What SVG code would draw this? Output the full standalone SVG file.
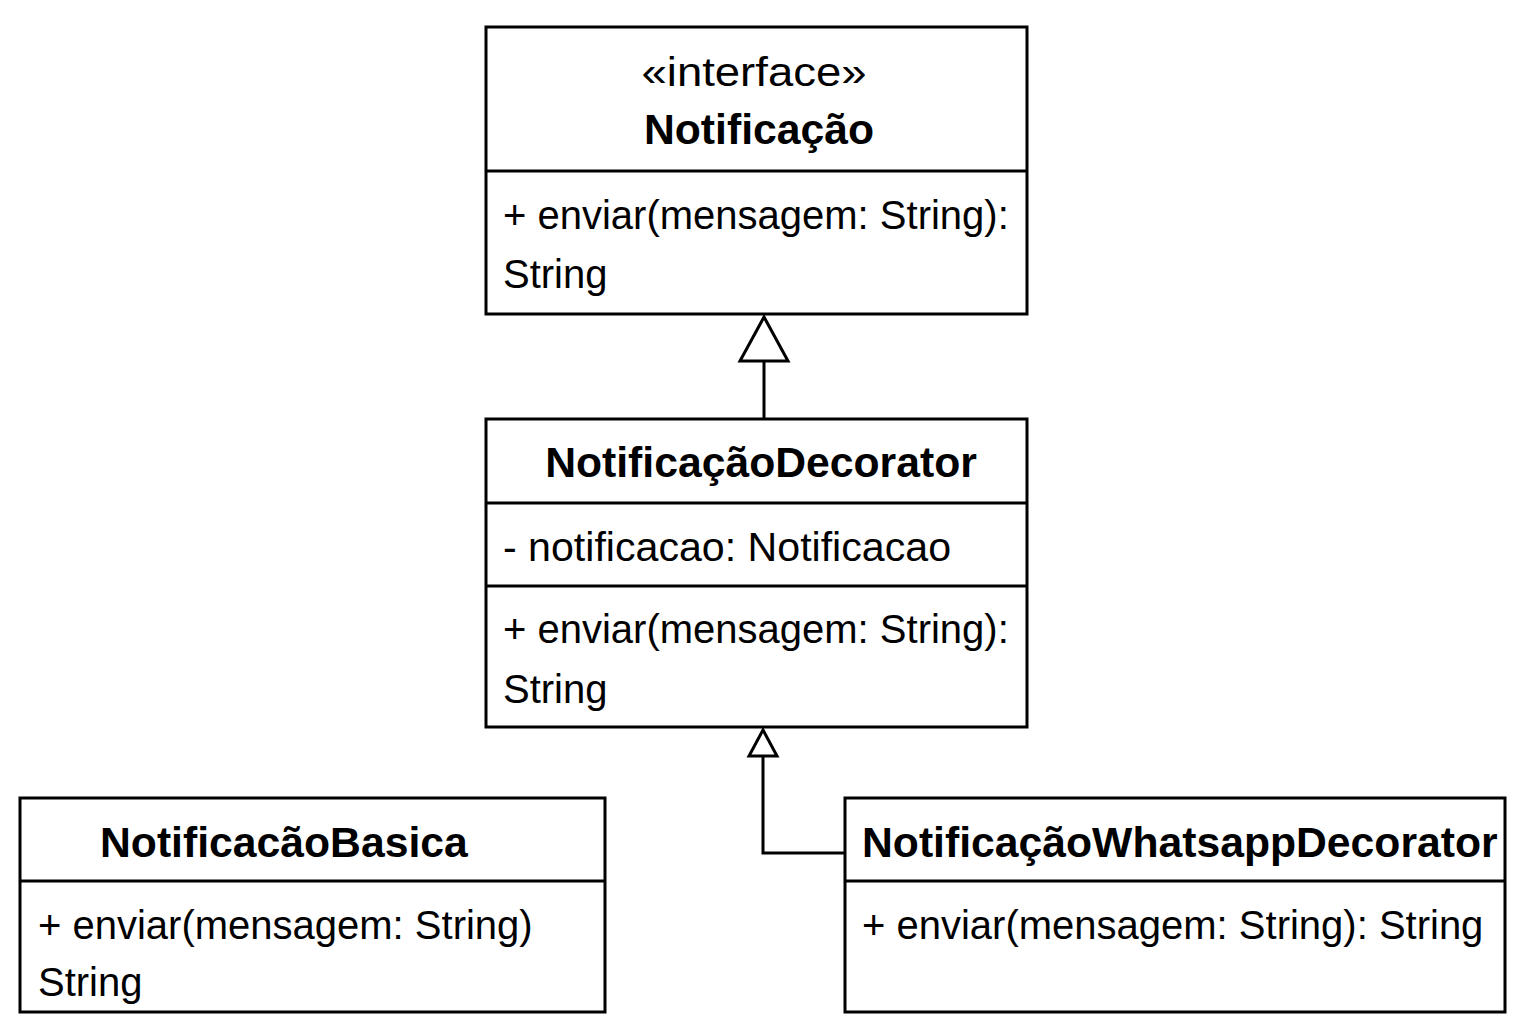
<svg xmlns="http://www.w3.org/2000/svg" width="1536" height="1024" viewBox="0 0 1536 1024">
<style>
.box{fill:#fff;stroke:#000;stroke-width:3}
.div{stroke:#000;stroke-width:3}
.t{font-family:"Liberation Sans",Arial,sans-serif;font-size:40px;fill:#000}
.b{font-family:"Liberation Sans",Arial,sans-serif;font-size:42.7px;font-weight:bold;fill:#000}
.c{stroke:#000;stroke-width:3;fill:none}
.h{stroke:#000;stroke-width:3;fill:#fff}
</style>
<rect width="1536" height="1024" fill="#fff"/>
<g id="connectors">
<line class="c" x1="764" y1="361" x2="764" y2="419"/>
<polygon class="h" points="764,317 740,361 788,361"/>
<polyline class="c" points="845,853 763,853 763,756"/>
<polygon class="h" points="763,730 749,756 777,756"/>
</g>
<g id="Notificacao">
<rect class="box" x="486" y="27" width="541" height="287"/>
<line class="div" x1="486" y1="171" x2="1027" y2="171"/>
<text class="t" x="754" y="86" text-anchor="middle" textLength="225" lengthAdjust="spacingAndGlyphs">«interface»</text>
<text class="b" x="759" y="144" text-anchor="middle">Notificação</text>
<text class="t" x="503" y="229">+ enviar(mensagem: String):</text>
<text class="t" x="503" y="288">String</text>
</g>
<g id="NotificacaoDecorator">
<rect class="box" x="486" y="419" width="541" height="308"/>
<line class="div" x1="486" y1="503" x2="1027" y2="503"/>
<line class="div" x1="486" y1="586" x2="1027" y2="586"/>
<text class="b" x="761" y="477" text-anchor="middle">NotificaçãoDecorator</text>
<text class="t" x="503" y="561" textLength="448" lengthAdjust="spacingAndGlyphs">- notificacao: Notificacao</text>
<text class="t" x="503" y="643">+ enviar(mensagem: String):</text>
<text class="t" x="503" y="703">String</text>
</g>
<g id="NotificacaoBasica">
<rect class="box" x="20" y="798" width="585" height="214"/>
<line class="div" x1="20" y1="881" x2="605" y2="881"/>
<text class="b" x="100" y="857">NotificacãoBasica</text>
<text class="t" x="38" y="939">+ enviar(mensagem: String)</text>
<text class="t" x="38" y="996">String</text>
</g>
<g id="NotificacaoWhatsappDecorator">
<rect class="box" x="845" y="798" width="660" height="214"/>
<line class="div" x1="845" y1="881" x2="1505" y2="881"/>
<text class="b" x="862" y="857">NotificaçãoWhatsappDecorator</text>
<text class="t" x="862" y="939">+ enviar(mensagem: String): String</text>
</g>
</svg>
